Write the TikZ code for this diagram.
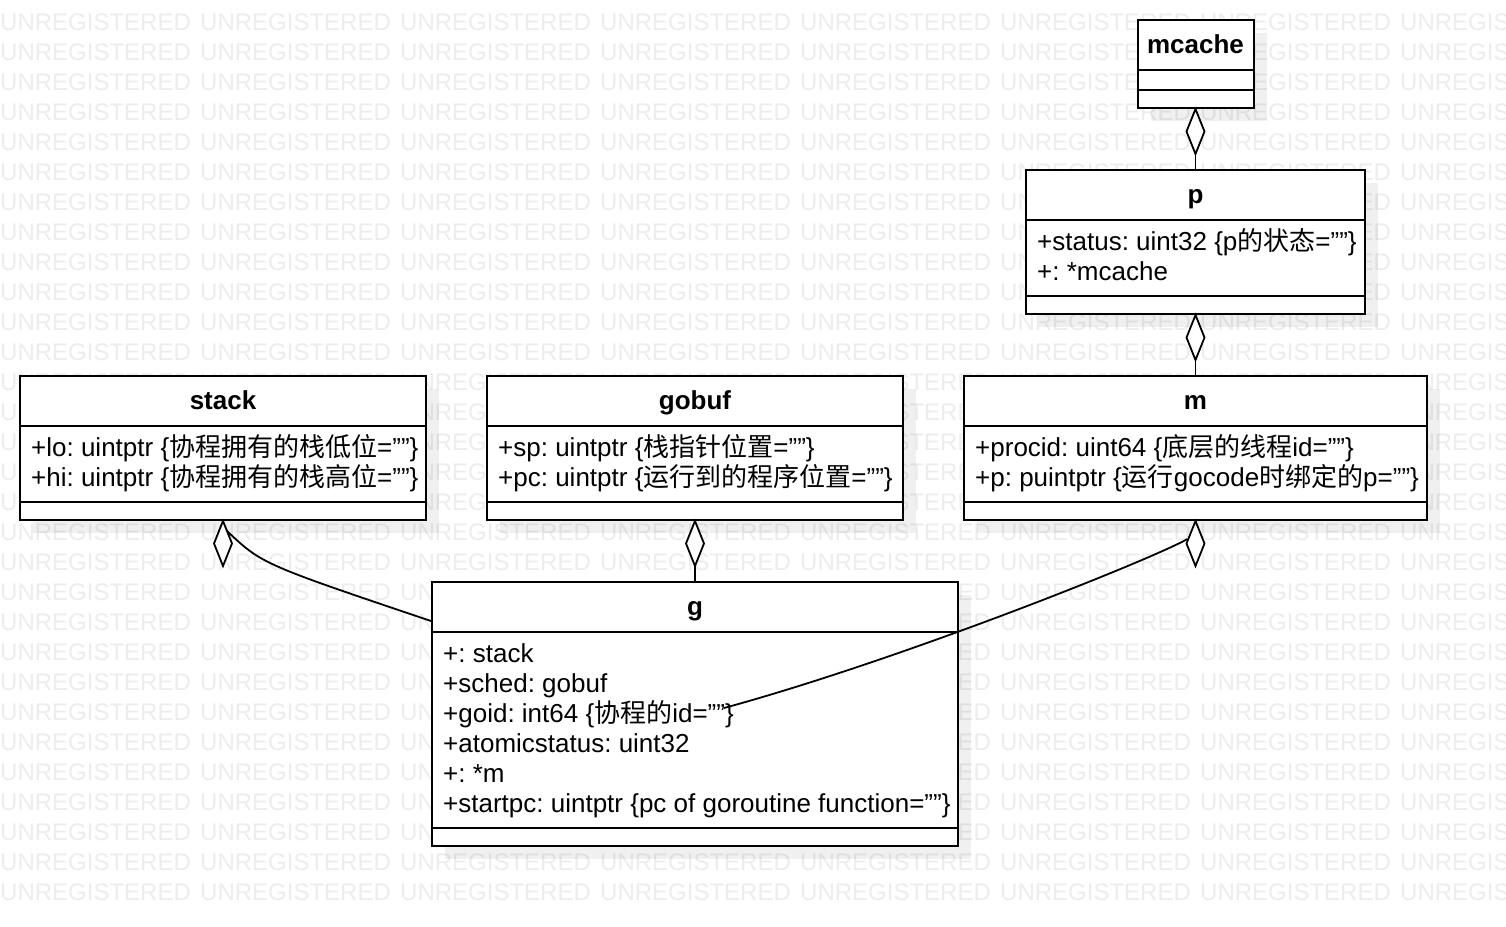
\documentclass[tikz,border=0pt]{standalone}
\usepackage{fontspec}
\setmainfont{Liberation Sans}
\newfontfamily\cjkfont{Noto Sans CJK SC}
\newcommand\cjktext[1]{{\cjkfont #1}}
\newcommand\emptyq{\char34\char34}
\usetikzlibrary{calc,shadows}
\frenchspacing
\begin{document}
\begin{tikzpicture}[x=1pt,y=-1pt,
  cls/.style={draw, line width=2pt, fill=white, rectangle, inner sep=0pt,
    drop shadow={shadow xshift=13pt, shadow yshift=-13pt, fill=black, opacity=0.06, draw=none}},
  sepline/.style={line width=2pt},
  title/.style={font=\bfseries\fontsize{26}{30}\selectfont, anchor=base, inner sep=0pt},
  attr/.style={font=\fontsize{26}{30}\selectfont, anchor=base west, inner sep=0pt},
  conn/.style={line width=1.8pt},
  agg/.style={line width=1.8pt, fill=white, line join=miter},
  wm/.style={font=\fontsize{24}{24}\selectfont, text=black!7, anchor=base west, inner sep=0pt}
]
\fill[white] (0,0) rectangle (1506,926);
\useasboundingbox (0,0) rectangle (1506,926);

% watermark
\begin{scope}
\clip (0,0) rectangle (1506,926);
\foreach \r in {1,...,30} {
  \foreach \c in {0,...,7} {
    \node[wm] (wm-\r-\c) at (200*\c, 30*\r) {UNREGISTERED};
  }
}
\end{scope}

% ---- mcache ----
\node[cls, minimum width=116pt, minimum height=88pt] (mcache) at (1195.5,64) {};
\node[title] (mcachename) at (1195.5,53) {mcache};
\draw[sepline] (mcache.west |- 0,70) -- (mcache.east |- 0,70);
\draw[sepline] (mcache.west |- 0,90) -- (mcache.east |- 0,90);

% ---- p ----
\node[cls, minimum width=339pt, minimum height=144pt] (p) at (1195.5,242) {};
\node[title] (pname) at (1195.5,203) {p};
\draw[sepline] (p.west |- 0,220) -- (p.east |- 0,220);
\draw[sepline] (p.west |- 0,296) -- (p.east |- 0,296);
\node[attr] (p1) at (1037,250) {+status: uint32 \{p\cjktext{的状态}=\emptyq\}};
\node[attr] (p2) at (1037,280) {+: *mcache};

% ---- stack ----
\node[cls, minimum width=406pt, minimum height=144pt] (stack) at (223,448) {};
\node[title] (stackname) at (223,409) {stack};
\draw[sepline] (stack.west |- 0,426) -- (stack.east |- 0,426);
\draw[sepline] (stack.west |- 0,502) -- (stack.east |- 0,502);
\node[attr] (stack1) at (31,456) {+lo: uintptr \{\cjktext{协程拥有的栈低位}=\emptyq\}};
\node[attr] (stack2) at (31,486) {+hi: uintptr \{\cjktext{协程拥有的栈高位}=\emptyq\}};

% ---- gobuf ----
\node[cls, minimum width=416pt, minimum height=144pt] (gobuf) at (695,448) {};
\node[title] (gobufname) at (695,409) {gobuf};
\draw[sepline] (gobuf.west |- 0,426) -- (gobuf.east |- 0,426);
\draw[sepline] (gobuf.west |- 0,502) -- (gobuf.east |- 0,502);
\node[attr] (gobuf1) at (498,456) {+sp: uintptr \{\cjktext{栈指针位置}=\emptyq\}};
\node[attr] (gobuf2) at (498,486) {+pc: uintptr \{\cjktext{运行到的程序位置}=\emptyq\}};

% ---- m ----
\node[cls, minimum width=463pt, minimum height=144pt] (m) at (1195.5,448) {};
\node[title] (mname) at (1195.5,409) {m};
\draw[sepline] (m.west |- 0,426) -- (m.east |- 0,426);
\draw[sepline] (m.west |- 0,502) -- (m.east |- 0,502);
\node[attr] (m1) at (975,456) {+procid: uint64 \{\cjktext{底层的线程}id=\emptyq\}};
\node[attr] (m2) at (975,486) {+p: puintptr \{\cjktext{运行}gocode\cjktext{时绑定的}p=\emptyq\}};

% ---- g ----
\node[cls, minimum width=526pt, minimum height=264pt] (g) at (695,714) {};
\node[title] (gname) at (695,615) {g};
\draw[sepline] (g.west |- 0,632) -- (g.east |- 0,632);
\draw[sepline] (g.west |- 0,828) -- (g.east |- 0,828);
\node[attr] (g1) at (443,662) {+: stack};
\node[attr] (g2) at (443,692) {+sched: gobuf};
\node[attr] (g3) at (443,722) {+goid: int64 \{\cjktext{协程的}id=\emptyq\}};
\node[attr] (g4) at (443,752) {+atomicstatus: uint32};
\node[attr] (g5) at (443,782) {+: *m};
\node[attr] (g6) at (443,812) {+startpc: uintptr \{pc of goroutine function=\emptyq\}};

% ---- connectors ----
\draw[conn] (mcache.south) -- (p.north);
\draw[conn] (p.south) -- (m.north);
\draw[conn] (gobuf.south) -- (g.north);
\draw[conn] ($(stack.south)+(4,10)$) .. controls (262,564) .. ($(g.north west)+(0,40)$);
\draw[conn] ($(m.south)+(-8,18)$) .. controls (1150,560) and (900,660) .. ($(g.center)+(29,-6)$);

% ---- aggregation diamonds ----
\foreach \n in {mcache,p,gobuf,stack,m} {
  \draw[agg] (\n.south) -- ++(9,22.5) -- ++(-9,22.5) -- ++(-9,-22.5) -- cycle;
}
\end{tikzpicture}
\end{document}
